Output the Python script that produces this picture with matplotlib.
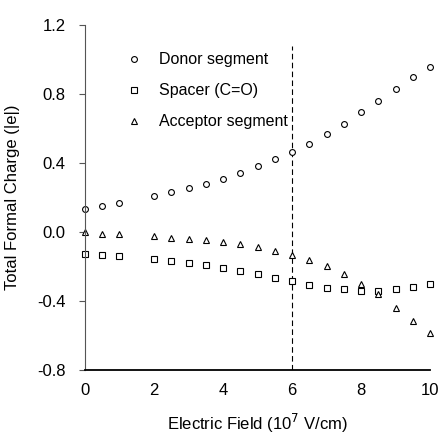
import numpy as np
import matplotlib
matplotlib.use('Agg')
import matplotlib.pyplot as plt

# 数据
field = [0, 0.5, 1, 2, 2.5, 3, 3.5, 4, 4.5, 5, 5.5, 6, 6.5, 7, 7.5, 8, 8.5, 9, 9.5, 10]
donor = [0.137, 0.152, 0.170, 0.210, 0.232, 0.257, 0.282, 0.311, 0.344, 0.383,
         0.423, 0.466, 0.512, 0.568, 0.630, 0.696, 0.761, 0.831, 0.899, 0.960]
spacer = [-0.126, -0.131, -0.139, -0.155, -0.166, -0.178, -0.193, -0.207, -0.224, -0.243,
          -0.263, -0.284, -0.305, -0.323, -0.332, -0.340, -0.338, -0.332, -0.319, -0.303]
acceptor = [0.002, -0.008, -0.012, -0.023, -0.031, -0.039, -0.046, -0.058, -0.070, -0.088,
            -0.108, -0.135, -0.162, -0.197, -0.243, -0.298, -0.356, -0.437, -0.514, -0.587]

x_ticks = [0, 2, 4, 6, 8, 10]
y_ticks = [-0.8, -0.4, 0.0, 0.4, 0.8, 1.2]
y_tick_labels = ['-0.8', '-0.4', '0.0', '0.4', '0.8', '1.2']
threshold = 6

plt.rcParams['font.family'] = ['Liberation Sans', 'DejaVu Sans']

fig = plt.figure(figsize=(4.38, 4.34), dpi=100)
ax = fig.add_axes([0.194, 0.147, 0.788, 0.795])

mk = dict(linestyle='none', markerfacecolor='white', markeredgecolor='black',
          markeredgewidth=0.8, clip_on=False)
ax.plot(field, donor, marker='o', markersize=4.2, label='Donor segment', **mk)
ax.plot(field, spacer, marker='s', markersize=3.8, label='Spacer (C=O)', **mk)
ax.plot(field, acceptor, marker='^', markersize=4.2, label='Acceptor segment', **mk)

# 阈值虚线
ax.plot([threshold, threshold], [-0.8, 1.08], color='black', linestyle=(0, (5, 3)), linewidth=0.8, zorder=0)

ax.set_xlim(0, 10)
ax.set_ylim(-0.8, 1.2)
ax.set_xticks(x_ticks)
ax.set_yticks(y_ticks)
ax.set_yticklabels(y_tick_labels)
ax.tick_params(axis='x', length=0, pad=9, labelsize=12)
ax.tick_params(axis='y', length=4, width=0.8, pad=10, labelsize=12, color='#555555')

for s in ['top', 'right']:
    ax.spines[s].set_visible(False)
ax.spines['left'].set_color('#555555')
ax.spines['left'].set_linewidth(0.8)
ax.spines['bottom'].set_linewidth(1.3)

ax.set_xlabel('Electric Field (10$^7$ V/cm)', fontsize=12, labelpad=10)
ax.set_ylabel('Total Formal Charge (|e|)', fontsize=12, labelpad=12)

ax.legend(loc='upper left', bbox_to_anchor=(0.067, 0.963), frameon=False, fontsize=11.5,
          handletextpad=0.8, labelspacing=1.0, handlelength=1.5)

fig.savefig('out.png', dpi=100)
